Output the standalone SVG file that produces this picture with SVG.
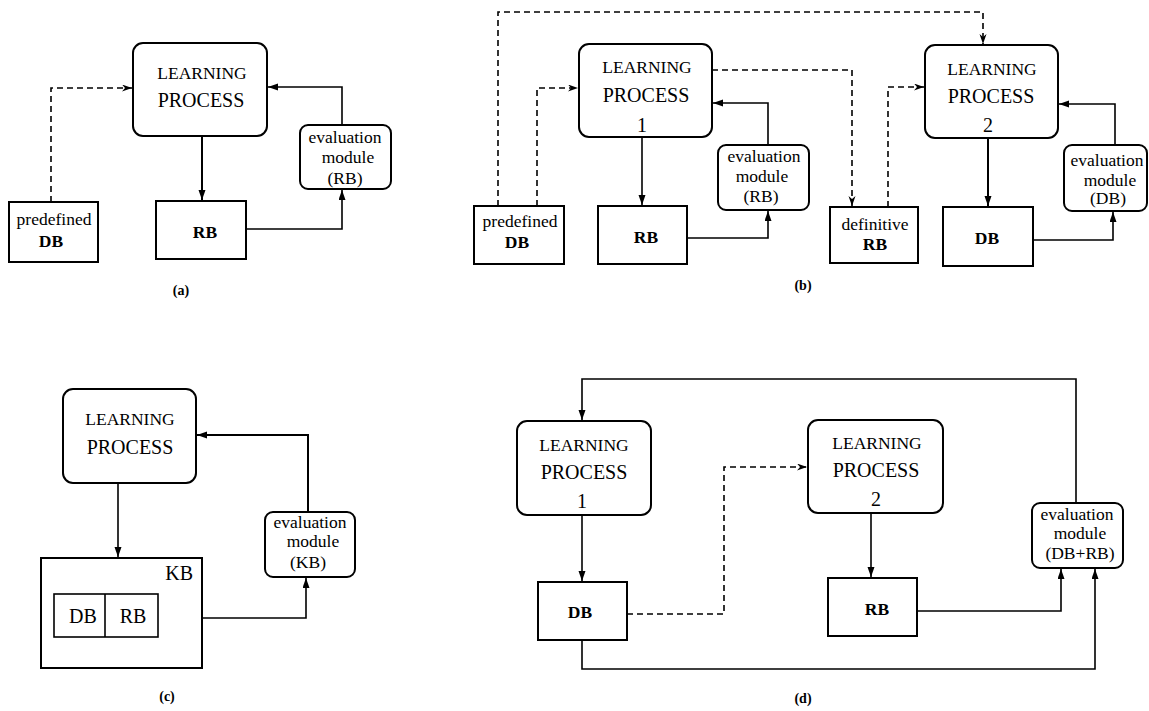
<svg xmlns="http://www.w3.org/2000/svg" width="1149" height="711" viewBox="0 0 1149 711" font-family="'Liberation Serif', 'DejaVu Serif', serif">
<defs>
<style>
.box{fill:#fff;stroke:#000;stroke-width:2}
.c{fill:none;stroke:#000;stroke-width:1.6}
.d{fill:none;stroke:#000;stroke-width:1.6;stroke-dasharray:6 4}
text{fill:#000;text-anchor:middle}
.l{font-size:17.5px}
.p{font-size:20px}
.e{font-size:17.5px}
.b{font-size:17.5px;font-weight:bold}
.k{font-size:20px}
.cap{font-size:14px;font-weight:bold}
</style>
<marker id="ah" markerUnits="userSpaceOnUse" markerWidth="12" markerHeight="8" refX="10" refY="3.5" orient="auto"><path d="M0,0 L10,3.5 L0,7 z" fill="#000"/></marker>
<marker id="ahd" markerUnits="userSpaceOnUse" markerWidth="12" markerHeight="8" refX="10" refY="3.5" orient="auto"><path d="M0,0 L10,3.5 L0,7 L3,3.5 z" fill="#000"/></marker>
</defs>
<rect width="1149" height="711" fill="#fff"/>

<g id="connectors">
<path class="d" d="M51,202 V88 H132" marker-end="url(#ahd)"/>
<path class="c" d="M202,136 V200" marker-end="url(#ah)" style="stroke-width:2"/>
<path class="c" d="M246,229 H342 V190" marker-end="url(#ah)"/>
<path class="c" d="M342,125 V87 H268" marker-end="url(#ah)"/>
<path class="d" d="M498,206 V12 H983 V44" marker-end="url(#ahd)"/>
<path class="d" d="M537,206 V88 H578" marker-end="url(#ahd)"/>
<path class="c" d="M642,137 V205" marker-end="url(#ah)"/>
<path class="c" d="M687,238 H768 V211" marker-end="url(#ah)"/>
<path class="c" d="M768,145 V103 H713" marker-end="url(#ah)"/>
<path class="d" d="M712,70 H852 V206" marker-end="url(#ahd)"/>
<path class="d" d="M888,207 V87 H924" marker-end="url(#ahd)"/>
<path class="c" d="M988,138 V206" marker-end="url(#ah)" style="stroke-width:2"/>
<path class="c" d="M1033,240 H1113 V212" marker-end="url(#ah)"/>
<path class="c" d="M1115,145 V104 H1059" marker-end="url(#ah)"/>
<path class="c" d="M118,483 V557" marker-end="url(#ah)"/>
<path class="c" d="M202,618 H306 V578" marker-end="url(#ah)"/>
<path class="c" d="M308,512 V435 H197" marker-end="url(#ah)" style="stroke-width:2"/>
<path class="c" d="M1076,503 V379 H582 V420" marker-end="url(#ah)"/>
<path class="c" d="M582,515 V581" marker-end="url(#ah)"/>
<path class="d" d="M627,614 H724 V467 H807" marker-end="url(#ahd)"/>
<path class="c" d="M871,513 V577" marker-end="url(#ah)"/>
<path class="c" d="M917,611 H1061 V569" marker-end="url(#ah)"/>
<path class="c" d="M582,640 V669 H1095 V569" marker-end="url(#ah)"/>
</g>

<g id="a-lp">
<rect class="box" x="133" y="43" width="134" height="93" rx="10"/>
<text class="l" x="202" y="79">LEARNING</text>
<text class="p" x="201" y="107">PROCESS</text>
</g>
<g id="a-pdb">
<rect class="box" x="9" y="202" width="89" height="60"/>
<text class="e" x="54" y="225">predefined</text>
<text class="b" x="51" y="247">DB</text>
</g>
<g id="a-rb">
<rect class="box" x="156" y="201" width="90" height="58"/>
<text class="b" x="205" y="238">RB</text>
</g>
<g id="a-eval">
<rect class="box" x="300" y="125" width="91" height="64" rx="8"/>
<text class="e" x="345" y="143">evaluation</text>
<text class="e" x="348" y="163">module</text>
<text class="e" x="345" y="184">(RB)</text>
</g>
<text class="cap" x="181" y="295">(a)</text>

<g id="b-lp1">
<rect class="box" x="579" y="44" width="133" height="93" rx="10"/>
<text class="l" x="647" y="73">LEARNING</text>
<text class="p" x="646" y="102">PROCESS</text>
<text class="p" x="642" y="132">1</text>
</g>
<g id="b-pdb">
<rect class="box" x="474" y="206" width="90" height="58"/>
<text class="e" x="520" y="227">predefined</text>
<text class="b" x="517" y="248">DB</text>
</g>
<g id="b-rb">
<rect class="box" x="598" y="206" width="89" height="58"/>
<text class="b" x="646" y="243">RB</text>
</g>
<g id="b-eval1">
<rect class="box" x="718" y="145" width="91" height="65" rx="8"/>
<text class="e" x="764" y="162">evaluation</text>
<text class="e" x="762" y="182">module</text>
<text class="e" x="761" y="202">(RB)</text>
</g>
<g id="b-defrb">
<rect class="box" x="830" y="207" width="88" height="56"/>
<text class="e" x="875" y="230">definitive</text>
<text class="b" x="875" y="250">RB</text>
</g>
<g id="b-lp2">
<rect class="box" x="925" y="45" width="133" height="93" rx="10"/>
<text class="l" x="992" y="75">LEARNING</text>
<text class="p" x="991" y="103">PROCESS</text>
<text class="p" x="988" y="132">2</text>
</g>
<g id="b-db">
<rect class="box" x="943" y="207" width="90" height="59"/>
<text class="b" x="987" y="244">DB</text>
</g>
<g id="b-eval2">
<rect class="box" x="1064" y="145" width="83" height="66" rx="8"/>
<text class="e" x="1107" y="166">evaluation</text>
<text class="e" x="1110" y="186">module</text>
<text class="e" x="1108" y="204">(DB)</text>
</g>
<text class="cap" x="803" y="290">(b)</text>

<g id="c-lp">
<rect class="box" x="63" y="389" width="133" height="94" rx="10"/>
<text class="l" x="130" y="425">LEARNING</text>
<text class="p" x="130" y="454">PROCESS</text>
</g>
<g id="c-kb">
<rect class="box" x="41" y="558" width="161" height="110"/>
<text class="k" x="193" y="580" style="text-anchor:end">KB</text>
<rect class="box" x="54" y="594" width="104" height="43" style="stroke-width:1.6"/>
<line x1="105" y1="594" x2="105" y2="637" stroke="#000" stroke-width="1.6"/>
<text class="k" x="83" y="623">DB</text>
<text class="k" x="133" y="623">RB</text>
</g>
<g id="c-eval">
<rect class="box" x="265" y="512" width="90" height="65" rx="8"/>
<text class="e" x="310" y="528">evaluation</text>
<text class="e" x="313" y="547">module</text>
<text class="e" x="308" y="568">(KB)</text>
</g>
<text class="cap" x="167" y="701">(c)</text>

<g id="d-lp1">
<rect class="box" x="517" y="421" width="134" height="94" rx="10"/>
<text class="l" x="584" y="451">LEARNING</text>
<text class="p" x="584" y="479">PROCESS</text>
<text class="p" x="582" y="508">1</text>
</g>
<g id="d-db">
<rect class="box" x="538" y="582" width="89" height="58"/>
<text class="b" x="580" y="618">DB</text>
</g>
<g id="d-lp2">
<rect class="box" x="808" y="420" width="135" height="93" rx="10"/>
<text class="l" x="877" y="449">LEARNING</text>
<text class="p" x="876" y="477">PROCESS</text>
<text class="p" x="876" y="506">2</text>
</g>
<g id="d-rb">
<rect class="box" x="828" y="578" width="89" height="58"/>
<text class="b" x="877" y="615">RB</text>
</g>
<g id="d-eval">
<rect class="box" x="1032" y="503" width="91" height="65" rx="8"/>
<text class="e" x="1077" y="520">evaluation</text>
<text class="e" x="1080" y="539">module</text>
<text class="e" x="1080" y="559">(DB+RB)</text>
</g>
<text class="cap" x="803" y="703">(d)</text>
</svg>
